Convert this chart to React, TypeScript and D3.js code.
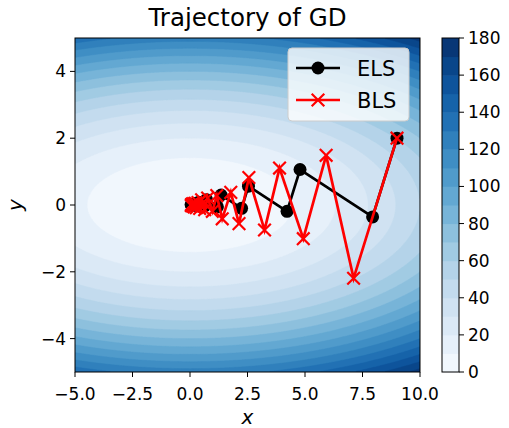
import React, { useEffect, useRef } from 'react';
import * as d3 from 'd3';

// contour levels and axis ticks
const levels = [0, 10, 20, 30, 40, 50, 60, 70, 80, 90, 100, 110, 120, 130, 140, 150, 160, 170, 180];
const colorTicks = [0, 20, 40, 60, 80, 100, 120, 140, 160, 180];
const xTicks = [-5, -2.5, 0, 2.5, 5, 7.5, 10];
const yTicks = [-4, -2, 0, 2, 4];

// exact line search trajectory
const elsX = [9, 7.939, 4.784, 4.219, 2.542, 2.243, 1.351, 1.192, 0.718, 0.634, 0.382, 0.337, 0.203, 0.179, 0.108, 0.095, 0.057, 0.051];
const elsY = [2, -0.357, 1.063, -0.190, 0.565, -0.101, 0.300, -0.054, 0.160, -0.028, 0.085, -0.015, 0.045, -0.008, 0.024, -0.004, 0.013, -0.002];

// backtracking line search trajectory
const blsX = [9, 7.113, 5.919, 4.926, 3.893, 3.240, 2.560, 2.131, 1.773, 1.401, 1.166, 0.971, 0.767, 0.638, 0.505, 0.420, 0.349, 0.276, 0.230, 0.182, 0.151, 0.126, 0.099, 0.083, 0.069, 0.054];
const blsY = [2, -2.194, 1.487, -1.008, 1.106, -0.749, 0.822, -0.557, 0.378, -0.414, 0.281, -0.190, 0.209, -0.142, 0.155, -0.105, 0.071, -0.078, 0.053, -0.058, 0.039, -0.027, 0.029, -0.020, 0.013, -0.015];

const objective = (x: number, y: number) => 0.5 * x * x + 5 * y * y;

const W = 509;
const H = 428;
const margin = { top: 38, left: 75, right: 89, bottom: 56 };
const FONT = 'DejaVu Sans, sans-serif';

const App = () => {
  const ref = useRef<SVGSVGElement>(null);

  useEffect(() => {
    const svg = d3.select(ref.current);
    svg.selectAll('*').remove();

    const x0 = margin.left;
    const x1 = W - margin.right;
    const y0 = margin.top;
    const y1 = H - margin.bottom;

    const x = d3.scaleLinear().domain([-5, 10]).range([x0, x1]);
    const y = d3.scaleLinear().domain([-5, 5]).range([y1, y0]);
    const color = (v: number) => d3.interpolateBlues(v / 180);

    // filled contours
    const nx = 360;
    const ny = 240;
    const grid = new Array(nx * ny);
    for (let j = 0; j < ny; j++) {
      for (let i = 0; i < nx; i++) {
        const gx = -5 + ((i + 0.5) * 15) / nx;
        const gy = 5 - ((j + 0.5) * 10) / ny;
        grid[j * nx + i] = objective(gx, gy);
      }
    }
    const contours = d3.contours().size([nx, ny]).thresholds(levels.slice(0, -1))(grid);
    const gxScale = d3.scaleLinear().domain([0, nx]).range([x0, x1]);
    const gyScale = d3.scaleLinear().domain([0, ny]).range([y0, y1]);
    const proj = d3.geoTransform({
      point(px, py) {
        this.stream.point(gxScale(px), gyScale(py));
      },
    });
    const path = d3.geoPath(proj);

    svg.append('clipPath').attr('id', 'plotclip')
      .append('rect').attr('x', x0).attr('y', y0).attr('width', x1 - x0).attr('height', y1 - y0);

    const cg = svg.append('g').attr('clip-path', 'url(#plotclip)');
    cg.selectAll('path.band')
      .data(contours)
      .enter().append('path')
      .attr('class', 'band')
      .attr('d', d => path(d as any))
      .attr('fill', d => color(d.value + 5))
      .attr('stroke', d => color(d.value + 5))
      .attr('stroke-width', 0.4);

    // trajectories
    const line = d3.line<number[]>().x(p => x(p[0])).y(p => y(p[1]));
    const els = elsX.map((v, i) => [v, elsY[i]]);
    const bls = blsX.map((v, i) => [v, blsY[i]]);

    const tg = svg.append('g').attr('clip-path', 'url(#plotclip)');
    tg.append('path').attr('d', line(els)).attr('fill', 'none').attr('stroke', 'black').attr('stroke-width', 2.7);
    tg.selectAll('circle.els').data(els).enter().append('circle')
      .attr('cx', d => x(d[0])).attr('cy', d => y(d[1])).attr('r', 6.5).attr('fill', 'black');

    tg.append('path').attr('d', line(bls)).attr('fill', 'none').attr('stroke', 'red').attr('stroke-width', 2.7);
    const xm = 6.3;
    const cross = (sel: any, cx: number, cy: number) => {
      sel.append('path')
        .attr('d', `M${cx - xm},${cy - xm}L${cx + xm},${cy + xm}M${cx - xm},${cy + xm}L${cx + xm},${cy - xm}`)
        .attr('stroke', 'red').attr('stroke-width', 2.2).attr('fill', 'none');
    };
    bls.forEach(d => cross(tg, x(d[0]), y(d[1])));

    // frame
    svg.append('rect').attr('x', x0).attr('y', y0).attr('width', x1 - x0).attr('height', y1 - y0)
      .attr('fill', 'none').attr('stroke', 'black').attr('stroke-width', 1);

    // axes
    const fmtX = d3.format('.1f');
    const fmtY = d3.format('d');
    const ax = svg.append('g').attr('font-family', FONT).attr('font-size', 17).attr('fill', '#000');
    xTicks.forEach(t => {
      ax.append('line').attr('x1', x(t)).attr('x2', x(t)).attr('y1', y1).attr('y2', y1 + 5).attr('stroke', 'black');
      ax.append('text').attr('x', x(t)).attr('y', y1 + 28).attr('text-anchor', 'middle').text(fmtX(t));
    });
    yTicks.forEach(t => {
      ax.append('line').attr('x1', x0 - 5).attr('x2', x0).attr('y1', y(t)).attr('y2', y(t)).attr('stroke', 'black');
      ax.append('text').attr('x', x0 - 9).attr('y', y(t) + 6).attr('text-anchor', 'end').text(fmtY(t));
    });

    svg.append('text').attr('x', (x0 + x1) / 2).attr('y', 424).attr('text-anchor', 'middle')
      .attr('font-family', FONT).attr('font-style', 'italic').attr('font-size', 20).text('x');
    svg.append('text').attr('transform', `translate(22,${(y0 + y1) / 2}) rotate(-90)`).attr('text-anchor', 'middle')
      .attr('font-family', FONT).attr('font-style', 'italic').attr('font-size', 20).text('y');

    svg.append('text').attr('x', (x0 + x1) / 2).attr('y', 26).attr('text-anchor', 'middle')
      .attr('font-family', FONT).attr('font-size', 24.5).text('Trajectory of GD');

    // legend
    const lg = svg.append('g');
    lg.append('rect').attr('x', 288).attr('y', 48).attr('width', 121).attr('height', 73).attr('rx', 4)
      .attr('fill', 'white').attr('fill-opacity', 0.8).attr('stroke', '#cccccc');
    lg.append('line').attr('x1', 296).attr('x2', 340).attr('y1', 68).attr('y2', 68).attr('stroke', 'black').attr('stroke-width', 2.7);
    lg.append('circle').attr('cx', 318).attr('cy', 68).attr('r', 6.5).attr('fill', 'black');
    lg.append('line').attr('x1', 296).attr('x2', 340).attr('y1', 100).attr('y2', 100).attr('stroke', 'red').attr('stroke-width', 2.7);
    cross(lg, 318, 100);
    lg.append('text').attr('x', 357).attr('y', 76).attr('font-family', FONT).attr('font-size', 21).text('ELS');
    lg.append('text').attr('x', 357).attr('y', 108).attr('font-family', FONT).attr('font-size', 21).text('BLS');

    // colorbar
    const cbX = 442;
    const cbW = 17;
    const cy = d3.scaleLinear().domain([0, 180]).range([y1, y0]);
    const cb = svg.append('g');
    cb.selectAll('rect.cbband')
      .data(levels.slice(0, -1))
      .enter().append('rect')
      .attr('class', 'cbband')
      .attr('x', cbX).attr('width', cbW)
      .attr('y', d => cy(d + 10)).attr('height', d => cy(d) - cy(d + 10) + 0.5)
      .attr('fill', d => color(d + 5));
    cb.append('rect').attr('x', cbX).attr('y', y0).attr('width', cbW).attr('height', y1 - y0)
      .attr('fill', 'none').attr('stroke', 'black').attr('stroke-width', 1);
    colorTicks.forEach(t => {
      cb.append('line').attr('x1', cbX + cbW).attr('x2', cbX + cbW + 5).attr('y1', cy(t)).attr('y2', cy(t)).attr('stroke', 'black');
      cb.append('text').attr('x', cbX + cbW + 9).attr('y', cy(t) + 6).attr('font-family', FONT).attr('font-size', 17).text(t);
    });
  }, []);

  return (
    <svg ref={ref} width={W} height={H} style={{ display: 'block', position: 'absolute', left: 0, top: 0, background: 'white' }}></svg>
  );
};

export default App;
